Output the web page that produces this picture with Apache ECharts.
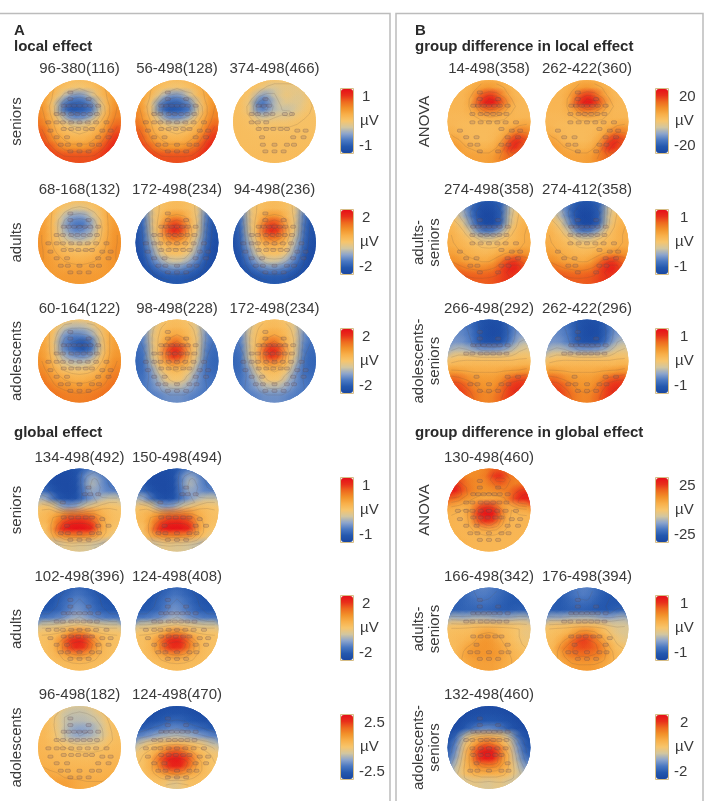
<!DOCTYPE html>
<html><head><meta charset="utf-8">
<style>html,body{margin:0;padding:0;background:#fff}#c{width:707px;height:801px}</style>
<script src="https://cdn.jsdelivr.net/npm/echarts@6/dist/echarts.min.js"></script>
</head><body><div id="c"></div>
<script>
// Field values: 11x11 samples across each scalp, percent of that map's colour-scale maximum.
const fSen1=[[25,25,20,15,10,8,10,15,20,25,25],[30,25,15,5,0,-5,0,5,15,25,30],[35,25,10,-15,-40,-50,-40,-15,10,25,35],[40,20,-10,-55,-75,-75,-70,-50,-10,20,40],[45,25,-10,-60,-85,-80,-75,-60,-15,20,45],[50,30,10,-20,-45,-50,-45,-25,5,30,50],[60,40,15,5,-5,-10,-5,5,15,40,65],[70,50,25,15,10,5,10,15,30,55,75],[75,60,40,25,20,20,20,30,45,70,85],[80,75,60,45,40,40,40,50,65,80,90],[85,80,75,70,70,70,70,70,75,85,90]];
const fSen3=[[8,8,8,8,5,0,0,0,3,5,5],[8,8,5,0,-10,-18,-12,-10,-12,-5,5],[8,5,0,-30,-45,-25,-12,-5,-12,-12,5],[8,5,-10,-60,-65,-35,-18,-12,-15,-10,0],[8,5,-8,-50,-55,-30,-22,-25,-15,-5,3],[8,6,3,-12,-18,-10,-8,-8,-3,3,5],[8,8,5,3,3,3,3,3,5,5,5],[8,8,8,6,5,5,5,5,6,6,6],[8,8,8,8,8,8,8,8,8,8,8],[9,9,9,9,9,9,9,9,9,9,9],[10,10,10,10,10,10,10,10,10,10,10]];
const fAdu1=[[30,25,15,10,8,5,8,10,15,25,30],[35,25,10,0,-10,-15,-10,0,10,25,35],[35,25,5,-20,-40,-45,-40,-20,5,25,35],[35,25,3,-30,-55,-65,-60,-35,0,25,35],[40,25,5,-25,-45,-55,-45,-30,3,25,40],[40,25,10,-10,-25,-30,-28,-15,8,28,40],[42,30,15,8,0,-2,0,5,15,30,42],[42,32,25,15,12,10,12,15,25,32,42],[40,35,30,25,22,20,22,25,30,35,40],[38,35,32,30,30,30,30,30,32,35,38],[35,35,35,35,35,35,35,35,35,35,35]];
const fAdu2=[[-60,-40,-10,5,8,10,8,5,-10,-40,-60],[-75,-50,-8,5,10,12,10,5,-8,-50,-75],[-85,-55,-8,10,30,40,30,10,-8,-55,-85],[-90,-60,-8,15,60,80,60,15,-8,-60,-90],[-90,-65,-10,18,70,95,70,18,-10,-65,-90],[-92,-68,-25,10,40,55,40,10,-25,-68,-92],[-95,-72,-35,0,12,15,12,0,-35,-72,-95],[-95,-78,-48,-15,3,5,3,-15,-48,-78,-95],[-95,-85,-60,-40,-25,-20,-25,-40,-60,-85,-95],[-95,-90,-78,-65,-55,-52,-55,-65,-78,-90,-95],[-95,-95,-90,-85,-80,-80,-80,-85,-90,-95,-95]];
const fAdo1=[[25,20,12,5,0,-3,0,5,12,20,25],[28,20,5,-20,-30,-30,-28,-15,5,20,28],[30,20,-5,-40,-55,-55,-50,-35,-5,20,30],[32,20,-10,-55,-65,-80,-85,-60,-10,20,32],[35,22,-8,-50,-65,-78,-80,-60,-12,20,35],[40,25,5,-25,-40,-45,-45,-30,0,25,40],[45,32,12,-5,-15,-18,-15,-5,12,32,45],[50,40,25,12,8,5,8,12,25,40,50],[55,48,35,28,22,20,22,28,35,48,55],[58,55,48,42,38,35,38,42,48,55,58],[60,58,55,52,50,50,50,52,55,58,60]];
const fAdo2=[[-45,-35,-25,-5,5,8,5,-5,-25,-35,-45],[-55,-45,-15,5,10,12,10,5,-15,-45,-55],[-60,-48,-8,8,20,28,20,8,-8,-48,-60],[-65,-52,-8,10,40,65,40,10,-8,-52,-65],[-70,-58,-10,15,70,95,70,15,-10,-58,-70],[-72,-62,-15,12,60,85,60,12,-15,-62,-72],[-72,-65,-30,8,20,30,20,8,-30,-65,-72],[-70,-65,-45,-12,5,8,5,-12,-45,-65,-70],[-65,-62,-48,-30,-5,0,-5,-30,-48,-62,-65],[-62,-60,-52,-40,-30,-30,-30,-40,-52,-60,-62],[-60,-60,-58,-55,-50,-50,-50,-55,-58,-60,-60]];
const fGSen=[[-85,-90,-90,-90,-90,-85,-70,-60,-65,-70,-70],[-85,-90,-95,-95,-95,-85,-50,-35,-50,-65,-70],[-75,-85,-95,-95,-95,-88,-50,-25,-45,-60,-65],[-60,-75,-90,-95,-95,-90,-55,-35,-45,-55,-55],[-25,-40,-75,-90,-92,-85,-60,-45,-30,-20,-20],[0,5,-10,-40,-45,-35,-15,-5,5,5,0],[8,15,25,40,55,55,55,45,22,12,5],[10,15,40,70,85,88,85,70,30,12,5],[0,10,50,90,98,100,98,88,30,10,0],[-15,5,25,35,40,38,38,30,15,0,-15],[-40,-30,-25,-15,-10,-15,-15,-20,-25,-35,-40]];
const fGAdu=[[-90,-90,-85,-80,-75,-70,-75,-80,-85,-90,-90],[-90,-88,-82,-75,-68,-60,-68,-75,-82,-88,-90],[-85,-85,-80,-70,-60,-52,-60,-70,-80,-85,-85],[-80,-80,-75,-68,-55,-45,-55,-65,-75,-80,-80],[-60,-60,-55,-50,-38,-32,-38,-50,-55,-60,-60],[-15,-15,-12,-8,-5,-3,-5,-8,-12,-15,-15],[3,5,8,15,40,50,40,15,8,5,3],[5,8,18,50,85,95,85,50,18,8,5],[5,8,18,45,75,85,75,45,18,8,5],[5,8,12,22,30,35,30,22,12,8,5],[8,8,8,8,10,10,10,8,8,8,8]];
const fGAdo1=[[8,8,5,-5,-15,-18,-15,-5,5,8,8],[10,8,-3,-20,-25,-25,-25,-20,-8,5,8],[10,8,-5,-20,-28,-28,-28,-25,-18,0,8],[12,10,-3,-20,-35,-42,-40,-35,-22,-3,8],[14,10,0,-18,-32,-38,-35,-30,-22,-5,8],[15,12,6,0,-5,-8,-8,-8,-5,5,10],[16,14,12,10,8,6,5,5,8,10,12],[18,16,14,12,10,10,10,10,12,12,14],[22,20,18,15,14,14,14,14,15,16,18],[26,26,24,20,18,18,18,18,18,20,20],[30,30,30,32,30,25,22,22,22,22,22]];
const fGAdo2=[[-98,-98,-95,-95,-92,-92,-92,-95,-95,-98,-98],[-95,-95,-92,-88,-85,-85,-85,-88,-92,-95,-95],[-90,-90,-85,-80,-75,-70,-75,-80,-85,-90,-90],[-80,-75,-68,-60,-55,-50,-55,-60,-68,-75,-80],[-55,-48,-40,-32,-28,-25,-28,-32,-40,-48,-55],[-25,-8,0,8,15,18,15,8,0,-8,-25],[-5,5,12,30,60,70,60,30,12,5,-5],[0,8,25,65,92,98,92,65,25,8,0],[0,8,25,50,80,90,80,50,25,8,0],[3,8,15,22,35,40,35,22,15,8,3],[5,5,5,5,-5,-15,-5,5,5,5,5]];
const fBAnova=[[15,15,15,18,20,20,20,18,15,15,15],[15,15,15,20,30,38,32,22,15,12,12],[15,15,15,28,60,80,75,45,20,12,12],[15,15,15,30,75,100,95,65,28,12,12],[14,14,15,22,40,55,50,35,18,12,12],[12,12,12,14,16,18,18,15,14,14,14],[15,12,10,10,10,10,10,14,18,25,30],[22,15,12,10,10,10,12,18,35,60,50],[30,28,15,12,10,10,15,30,70,90,70],[35,35,28,22,18,18,25,45,85,80,60],[30,30,30,30,30,30,35,50,60,55,45]];
const fBAdu=[[-25,-30,-40,-60,-80,-85,-80,-70,-30,-5,5],[-15,-25,-45,-75,-92,-95,-90,-75,-25,0,10],[5,-10,-35,-70,-95,-100,-95,-75,-20,5,15],[15,5,-15,-55,-90,-98,-95,-70,-15,10,20],[20,12,0,-25,-55,-65,-55,-30,0,15,22],[22,15,10,0,-10,-15,-10,0,10,15,22],[25,20,15,10,5,5,5,12,15,20,25],[35,28,22,18,14,14,20,28,35,45,40],[45,40,32,28,25,25,35,60,80,80,60],[60,60,52,48,45,50,55,75,90,88,70],[70,70,68,65,65,65,68,75,80,75,70]];
const fBAdo=[[-50,-55,-62,-72,-85,-90,-90,-85,-65,-50,-50],[-50,-52,-58,-68,-85,-92,-95,-90,-70,-50,-45],[-50,-50,-55,-65,-85,-92,-95,-90,-70,-45,-40],[-48,-45,-50,-62,-82,-88,-88,-82,-60,-35,-25],[-35,-25,-28,-35,-45,-45,-45,-40,-30,-15,-10],[-5,0,3,3,3,3,3,3,3,5,5],[15,15,15,15,15,15,15,15,15,15,20],[40,35,30,25,25,25,25,30,35,40,45],[65,65,50,40,35,35,35,45,65,75,75],[75,75,68,52,40,38,42,60,78,85,80],[78,78,72,60,50,45,50,65,78,80,78]];
const fGAnova=[[45,45,45,42,42,50,65,60,45,42,42],[60,55,48,42,45,55,85,85,55,45,45],[88,85,60,48,42,45,60,65,50,50,55],[95,90,62,48,40,38,42,45,55,75,85],[60,52,40,30,25,22,25,30,55,85,92],[25,22,18,30,70,85,70,30,20,30,35],[18,15,15,45,95,100,95,45,15,14,15],[18,15,15,30,70,85,70,30,15,14,15],[18,15,15,18,22,25,22,18,15,14,15],[20,18,15,14,14,14,14,14,14,14,15],[22,22,18,15,14,14,14,14,15,15,15]];
const fGDiff1=[[-70,-72,-70,-60,-55,-55,-60,-70,-75,-78,-78],[-75,-75,-70,-62,-58,-60,-65,-72,-78,-80,-80],[-75,-75,-72,-68,-65,-65,-70,-75,-80,-80,-80],[-75,-75,-72,-72,-72,-72,-75,-78,-78,-75,-75],[-30,-32,-35,-30,-30,-30,-35,-35,-35,-30,-30],[3,3,5,8,10,10,10,8,5,0,-5],[8,10,10,12,25,32,25,12,8,0,-8],[8,12,15,22,35,38,32,20,10,3,-5],[8,12,25,35,38,38,35,28,15,8,3],[10,15,28,35,38,38,38,30,20,12,10],[14,16,22,28,30,30,30,25,20,15,15]];
const fGDiff2=[[-75,-78,-75,-65,-58,-55,-62,-72,-78,-80,-80],[-78,-80,-75,-68,-60,-58,-65,-75,-80,-82,-82],[-78,-80,-78,-72,-68,-68,-72,-78,-82,-82,-82],[-75,-78,-78,-75,-75,-75,-78,-80,-80,-75,-72],[-35,-35,-35,-30,-30,-28,-30,-35,-40,-35,-30],[0,3,5,8,12,12,10,5,-5,-15,-15],[5,8,12,22,40,50,38,18,5,-8,-15],[8,12,28,50,72,80,65,40,15,0,-10],[8,18,48,60,68,70,65,55,28,8,3],[10,18,35,50,55,55,52,45,30,12,10],[15,18,25,32,35,35,35,30,22,15,15]];
const fGDiff3=[[-98,-98,-98,-95,-95,-95,-95,-95,-98,-98,-98],[-98,-98,-95,-92,-90,-88,-90,-92,-95,-98,-98],[-98,-95,-90,-85,-82,-80,-80,-85,-90,-95,-98],[-95,-92,-82,-65,-55,-50,-55,-65,-85,-92,-95],[-90,-70,-25,3,12,20,12,3,-25,-70,-90],[-85,-50,-5,20,50,65,50,20,-5,-50,-85],[-78,-40,5,45,92,100,92,45,5,-40,-78],[-65,-30,8,40,85,95,85,40,8,-30,-65],[-45,-20,10,30,42,45,42,30,10,-20,-45],[-30,-15,5,15,18,18,18,15,5,-15,-30],[-25,-25,-20,-10,-12,-18,-12,-10,-20,-25,-25]];

const scales=[1,2,2,1,2,2.5,20,1,1,25,1,2];
const scaleTop=['1','2','2','1','2','2.5','20','1','1','25','1','2'];
const scaleBottom=['-1','-2','-2','-1','-2','-2.5','-20','-1','-1','-25','-1','-2'];
const colorStops=['#1a47a0','#2458ae','#4a78c2','#8ca4cc','#d2c6a0','#f7c56c','#f8b04a','#f2922a','#ee6a1e','#e8301a','#e60f18'];
// Electrode montage, normalised scalp coordinates [row y, row x positions].
const montage=[[-.7,[-.22]],[-.54,[-.22,.22]],[-.38,[-.38,-.26,-.13,0,.13,.26,.45]],[-.18,[-.55,-.4,-.2,-.05,.1,.25,.42]],[.02,[-.75,-.55,-.4,-.2,0,.2,.4,.65]],[.18,[-.38,-.2,-.03,.15,.3]],[.22,[-.7,.55,.75]],[.38,[-.55,-.3,.45,.7]],[.56,[-.45,-.28,0,.3,.47]],[.72,[-.22,0,.22]]];
const ALL=[[-1,-1,1,1]];
const colX=[79.5,177,274.5], bColX=[489,587];
const rowY=[121.5,242.5,361,510,629,747.5];
const R=41.5, N=11;
// label, field, scale index, cx, cy, visible electrode regions
const maps=[
['96-380(116)',fSen1,0,colX[0],rowY[0],ALL],['56-498(128)',fSen1,0,colX[1],rowY[0],ALL],['374-498(466)',fSen3,0,colX[2],rowY[0],[[-.7,-.6,-.05,.05],[.2,-.3,.45,-.15],[-.4,.1,.8,.75]]],
['68-168(132)',fAdu1,1,colX[0],rowY[1],ALL],['172-498(234)',fAdu2,1,colX[1],rowY[1],ALL],['94-498(236)',fAdu2,1,colX[2],rowY[1],ALL],
['60-164(122)',fAdo1,2,colX[0],rowY[2],ALL],['98-498(228)',fAdo2,2,colX[1],rowY[2],ALL],['172-498(234)',fAdo2,2,colX[2],rowY[2],ALL],
['134-498(492)',fGSen,3,colX[0],rowY[3],[[.1,-.75,.7,-.3],[-.5,-.2,-.3,0],[-.5,.15,.7,.8]]],['150-498(494)',fGSen,3,colX[1],rowY[3],[[.1,-.75,.7,-.3],[-.5,-.2,-.3,0],[-.5,.15,.7,.8]]],
['102-498(396)',fGAdu,4,colX[0],rowY[4],ALL],['124-498(408)',fGAdu,4,colX[1],rowY[4],ALL],
['96-498(182)',fGAdo1,5,colX[0],rowY[5],ALL],['124-498(470)',fGAdo2,5,colX[1],rowY[5],ALL],
['14-498(358)',fBAnova,6,bColX[0],rowY[0],[[-.5,-.75,.6,.05],[-.8,.2,-.1,.8],[.2,.02,.9,.8]]],['262-422(360)',fBAnova,6,bColX[1],rowY[0],[[-.5,-.75,.6,.05],[-.8,.2,-.1,.8],[.2,.02,.9,.8]]],
['274-498(358)',fBAdu,7,bColX[0],rowY[1],[[-.5,-.6,.6,.05],[-.8,.2,-.1,.8],[.2,.02,.9,.8]]],['274-412(358)',fBAdu,7,bColX[1],rowY[1],[[-.5,-.6,.6,.05],[-.8,.2,-.1,.8],[.2,.02,.9,.8]]],
['266-498(292)',fBAdo,8,bColX[0],rowY[2],[[-.7,-.75,.8,-.1],[-.5,.35,.8,.8]]],['262-422(296)',fBAdo,8,bColX[1],rowY[2],[[-.7,-.75,.8,-.1],[-.5,.35,.8,.8]]],
['130-498(460)',fGAnova,9,bColX[0],rowY[3],ALL],
['166-498(342)',fGDiff1,10,bColX[0],rowY[4],[[-.8,-.8,.8,-.1],[-.5,.1,.5,.8]]],['176-498(394)',fGDiff2,10,bColX[1],rowY[4],[[-.8,-.8,.8,-.1],[-.5,.1,.6,.8]]],
['132-498(460)',fGDiff3,11,bColX[0],rowY[5],[[-.6,-.8,.6,-.1],[-.5,.0,.5,.6]]]
];
const barY=[89,210,329,478,596,715], barH=64;
const levels=[-80,-60,-40,-20,0,20,40,60,80];

const inBoxes=(x,y,b)=>b.some(r=>x>=r[0]&&y>=r[1]&&x<=r[2]&&y<=r[3]);
const clipOf=cs=>({type:'circle',shape:{cx:cs.x+cs.width/2,cy:cs.y+cs.height/2,r:cs.width/2}});

function fieldItem(params,api){
  const p=api.coord([api.value(0),api.value(1)]), s=api.size([1,1]), c=api.visual('color'), clip=clipOf(params.coordSys);
  if(api.value(3)===0) return {type:'rect',shape:{x:p[0]-s[0]/2-.5,y:p[1]-s[1]/2-.5,width:s[0]+1,height:s[1]+1},style:{fill:c},clipPath:clip};
  const ma=echarts.color.modifyAlpha;
  return {type:'circle',shape:{cx:p[0],cy:p[1],r:s[0]*1.6},style:{fill:{type:'radial',x:.5,y:.5,r:.5,colorStops:[{offset:0,color:ma(c,.95)},{offset:.4,color:ma(c,.65)},{offset:1,color:ma(c,0)}]}},clipPath:clip};
}
function contourRenderer(f){
  return function(params,api){
    const i=api.value(0), j=api.value(1);
    if(i>=N-1||j>=N-1) return;
    const a=f[j][i],b=f[j][i+1],c=f[j+1][i+1],d=f[j+1][i];
    const kids=[];
    levels.forEach(l=>{
      const pts=[];
      const e=(v1,v2,x1,y1,x2,y2)=>{ if((v1<l)!==(v2<l)){const t=(l-v1)/(v2-v1);pts.push(api.coord([x1+(x2-x1)*t,y1+(y2-y1)*t]));}};
      e(a,b,i,j,i+1,j);e(b,c,i+1,j,i+1,j+1);e(d,c,i,j+1,i+1,j+1);e(a,d,i,j,i,j+1);
      for(let k=0;k+1<pts.length;k+=2) kids.push({type:'line',shape:{x1:pts[k][0],y1:pts[k][1],x2:pts[k+1][0],y2:pts[k+1][1]},style:{stroke:'rgba(95,80,65,.28)',lineWidth:.6,fill:null}});
    });
    if(!kids.length) return;
    return {type:'group',children:kids,clipPath:clipOf(params.coordSys)};
  };
}

const grid=[],xAxis=[],yAxis=[],series=[],seriesByScale=scales.map(()=>[]);
maps.forEach((m,g)=>{
  const [lab,f,si,cx,cy,boxes]=m, sc=scales[si];
  grid.push({left:cx-R,top:cy-R,width:2*R,height:2*R,containLabel:false});
  xAxis.push({type:'value',gridIndex:g,min:-.5,max:N-.5,show:false});
  yAxis.push({type:'value',gridIndex:g,min:-.5,max:N-.5,inverse:true,show:false});
  const cells=[];
  f.forEach((row,j)=>row.forEach((v,i)=>cells.push([i,j,v*sc/100])));
  seriesByScale[si].push(series.length);
  series.push({type:'custom',xAxisIndex:g,yAxisIndex:g,silent:true,z:2,renderItem:fieldItem,encode:{x:0,y:1},
    data:cells.map(c=>[...c,0]).concat(cells.map(c=>[...c,1]))});
  series.push({type:'custom',xAxisIndex:g,yAxisIndex:g,silent:true,z:3,renderItem:contourRenderer(f),encode:{x:0,y:1},data:cells});
  const pts=[];
  montage.forEach(([y,xs])=>xs.forEach(x=>{ if(inBoxes(x,y,boxes)) pts.push([(x+1)/2*N-.5,(y+1)/2*N-.5]); }));
  series.push({type:'scatter',xAxisIndex:g,yAxisIndex:g,silent:true,z:4,symbol:'roundRect',symbolSize:[5,3],data:pts,
    itemStyle:{color:'rgba(140,100,100,.25)',borderColor:'rgba(85,70,80,.55)',borderWidth:.6}});
});

const visualMap=scales.map((s,k)=>({type:'continuous',min:-s,max:s,dimension:2,seriesIndex:seriesByScale[k],
  left:k<6?341:656,top:barY[k%6],itemWidth:12,itemHeight:barH,padding:0,calculable:false,hoverLink:false,text:null,showLabel:false,
  inRange:{color:colorStops},orient:'vertical'}));

const T=(text,x,y,o={})=>({type:'text',silent:true,x,y,rotation:o.rot||0,z:20,style:{text,fill:o.fill||'#3a3a3a',font:`${o.bold?'bold ':''}${o.size||15}px "Liberation Sans",Arial,sans-serif`,textAlign:o.align||'center',textVerticalAlign:'middle'}});
const graphic=[];
const lineStyle={stroke:'#bcbcbc',lineWidth:1.5,fill:null};
graphic.push({type:'polyline',silent:true,z:1,shape:{points:[[0,13.5],[390,13.5],[390,801]]},style:lineStyle});
graphic.push({type:'polyline',silent:true,z:1,shape:{points:[[396,801],[396,13.5],[703,13.5],[703,801]]},style:lineStyle});
const heads=[['A',14,31],['local effect',14,47],['global effect',14,433],['B',415,31],['group difference in local effect',415,47],['group difference in global effect',415,433]];
heads.forEach(h=>graphic.push(T(h[0],h[1],h[2],{bold:true,size:15,align:'left',fill:'#2a2a2a'})));
maps.forEach(m=>graphic.push(T(m[0],m[3],m[4]-52.5)));
const rot=Math.PI/2;
[['seniors',17,rowY[0]],['adults',17,rowY[1]],['adolescents',17,rowY[2]],['seniors',17,rowY[3]],['adults',17,rowY[4]],['adolescents',17,rowY[5]],
 ['ANOVA',425,rowY[0]],['adults-',419,rowY[1]],['seniors',435,rowY[1]],['adolescents-',419,rowY[2]],['seniors',435,rowY[2]],
 ['ANOVA',425,rowY[3]],['adults-',419,rowY[4]],['seniors',435,rowY[4]],['adolescents-',419,rowY[5]],['seniors',435,rowY[5]]]
 .forEach(r=>graphic.push(T(r[0],r[1],r[2],{rot,size:15})));
scales.forEach((s,k)=>{
  const left=k<6, bx=left?341:656, y=barY[k%6];
  graphic.push({type:'rect',silent:true,z:19,shape:{x:bx-.5,y:y-.5,width:13,height:barH+1},style:{fill:null,stroke:'#d6bd86',lineWidth:1}});
  const topX=scaleTop[k].length>1&&left?364:(scaleTop[k].length>1?679:(left?362:680));
  graphic.push(T(scaleTop[k],topX,y+8,{align:'left',size:15}));
  graphic.push(T('µV',left?360:675,y+32,{align:'left',size:15}));
  graphic.push(T(scaleBottom[k],left?359:674,y+barH-7,{align:'left',size:15}));
});

const chart=echarts.init(document.getElementById('c'),null,{renderer:'canvas',width:707,height:801});
chart.setOption({animation:false,backgroundColor:'#fff',grid,xAxis,yAxis,visualMap,series,graphic});
</script></body></html>
